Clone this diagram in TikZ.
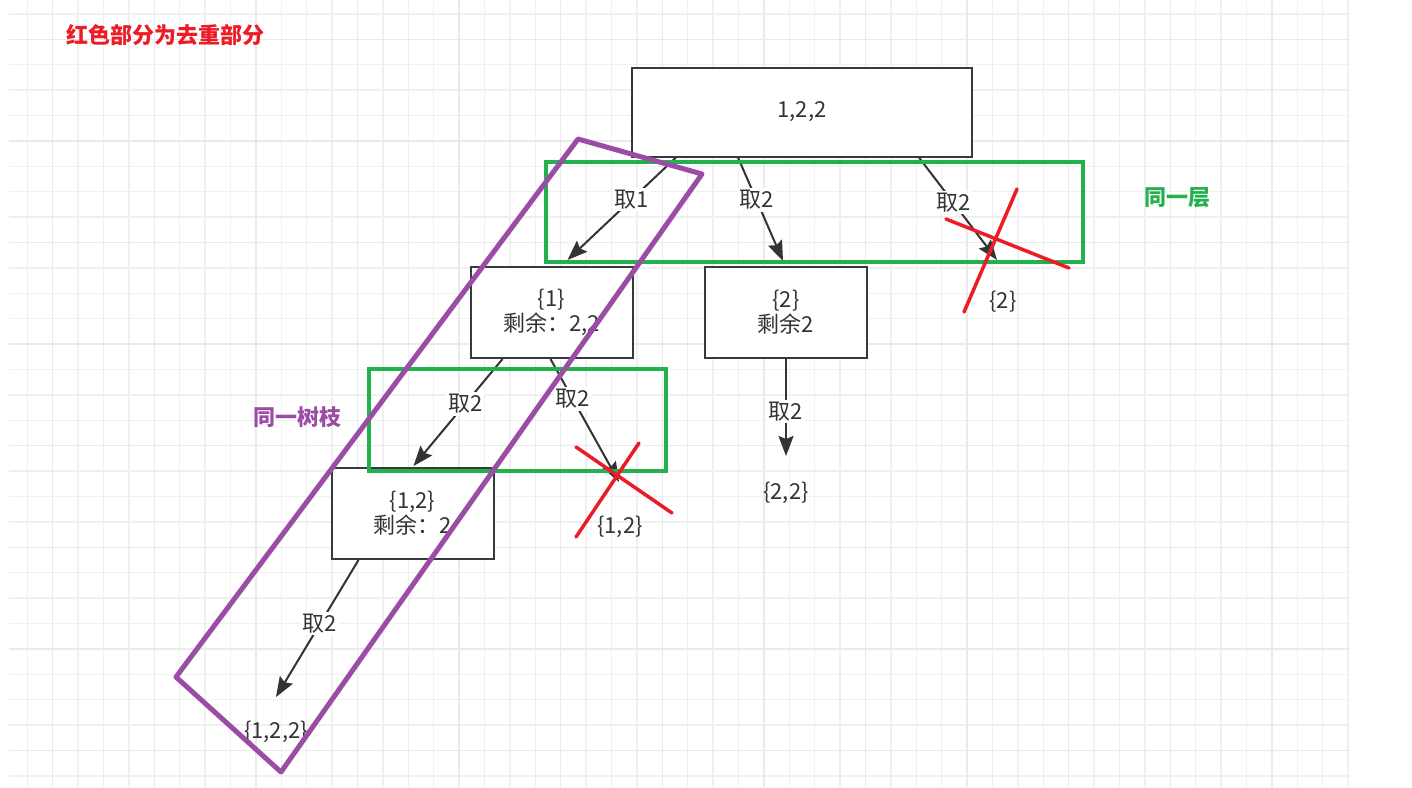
\documentclass[tikz,border=0pt]{standalone}
\usepackage{fontspec}
\setmainfont{Noto Sans CJK SC}
\usepackage{tikz}
\usetikzlibrary{arrows.meta}
\usetikzlibrary{positioning}
\definecolor{txtgray}{HTML}{333333}
\definecolor{boxgray}{HTML}{36393D}
\definecolor{gridminor}{HTML}{F0F0F0}
\definecolor{gridmajor}{HTML}{EAEAEA}
\definecolor{redx}{HTML}{EC1C26}
\definecolor{levelgreen}{HTML}{22B14C}
\definecolor{branchpurple}{HTML}{9B4DA6}
\tikzstyle{box}=[rectangle,draw=boxgray,line width=2pt,fill=white,inner sep=0pt,minimum width=162pt,minimum height=91pt,align=center,text=txtgray,font=\fontsize{22}{25}\selectfont]
\tikzstyle{leaf}=[inner sep=0pt,text=txtgray,font=\fontsize{22}{25}\selectfont]
\tikzstyle{edge} = [draw=txtgray,line width=2pt,-{Stealth[length=20pt,width=15pt,inset=3pt]}]
\tikzstyle{weight} = [fill=white,inner sep=2pt,text=txtgray,font=\fontsize{22}{25}\selectfont]
\tikzstyle{notetext} = [inner sep=0pt,font=\fontsize{22}{26}\selectfont\bfseries]
\tikzstyle{level} = [draw=levelgreen,line width=4pt]
\tikzstyle{branch} = [draw=branchpurple,line width=5pt,line join=round]
\tikzstyle{cross} = [draw=redx,line width=3.5pt,line cap=round]

\begin{document}
\begin{tikzpicture}[x=1pt,y=-1pt]
    \fill[white] (0,0) rectangle (1412,787);
    \useasboundingbox (0,0) rectangle (1412,787);

    % background grid
    \foreach \k in {0,...,52}
        \draw[gridminor,line width=1.5pt] ({27.3+25.4*\k},0) -- ({27.3+25.4*\k},787);
    \foreach \k in {0,...,30}
        \draw[gridminor,line width=1.5pt] (9,{13.9+25.4*\k}) -- (1350,{13.9+25.4*\k});
    \foreach \k in {1,5,...,49}
        \draw[gridmajor,line width=1.5pt] ({27.3+25.4*\k},0) -- ({27.3+25.4*\k},787);
    \foreach \k in {1,5,...,29}
        \draw[gridmajor,line width=1.5pt] (9,{13.9+25.4*\k}) -- (1350,{13.9+25.4*\k});

    % the boxes of the tree
    \node[box,minimum width=340pt,minimum height=89pt] (root) at (802,112) {1,2,2};
    \foreach \pos/\name/\label in {{(551.5,312.5)/one/{\{1\}\\剩余：2,2}}, {(786,312.5)/two/{\{2\}\\剩余2}}, {(412.5,513.5)/gc/{\{1,2\}\\剩余：2}}}
        \node[box] (\name) at \pos {\label};

    % the leaves
    \foreach \pos/\name/\label in {{(1003,302)/p2/\{2\}}, {(620,527)/p12/\{1,2\}}, {(786,493)/p22/\{2,2\}}, {(276,732)/p122/\{1,2,2\}}}
        \node[leaf] (\name) at \pos {\label};

    % start and end points of the edges
    \foreach \name/\base/\dx in {r1/root/45, r2/root/107, r3/root/288, o1/one/33, o2/one/81, g1/gc/28}
        \coordinate (\name) at ([xshift=\dx pt]\base.south west);
    \coordinate (w1) at (two.south);
    \coordinate (e1) at ([xshift=98pt,yshift=6pt]one.north west);
    \coordinate (e2) at ([xshift=79pt,yshift=5pt]two.north west);
    \coordinate (e4) at ([xshift=83pt,yshift=1pt]gc.north west);
    \coordinate (e3) at (997,260);
    \coordinate (e5) at (619,482);
    \coordinate (e6) at (786,456);
    \coordinate (e7) at (276,697);

    % Connect boxes with edges and draw weights
    \foreach \source/\dest/\p/\weight in {r1/e1/0.41/取1, r2/e2/0.41/取2, r3/e3/0.44/取2, o1/e4/0.42/取2, o2/e5/0.325/取2, w1/e6/0.54/取2, g1/e7/0.466/取2}
        \path[edge] (\source) -- node[weight,pos=\p] {\weight} (\dest);

    % notes
    \node[notetext,text=redx,anchor=west] (title) at (66,35) {红色部分为去重部分};
    \node[notetext,text=levelgreen] (layer) at (1177,198) {同一层};
    \node[notetext,text=branchpurple] (twig) at (297,417) {同一树枝};

    % same level, same branch, removed
    \draw[level] (546,162) rectangle (1083,262);
    \draw[level] (369,369) rectangle (666,471);
    \draw[branch] (578,139) -- (702,174) -- (281,772) -- (176,677) -- cycle;
    \foreach \a/\b in {{(946,219)/(1069,268)}, {(1017,189)/(964,312)}, {(576,447)/(672,513)}, {(639,443)/(576,537)}}
        \draw[cross] \a -- \b;
\end{tikzpicture}
\end{document}
